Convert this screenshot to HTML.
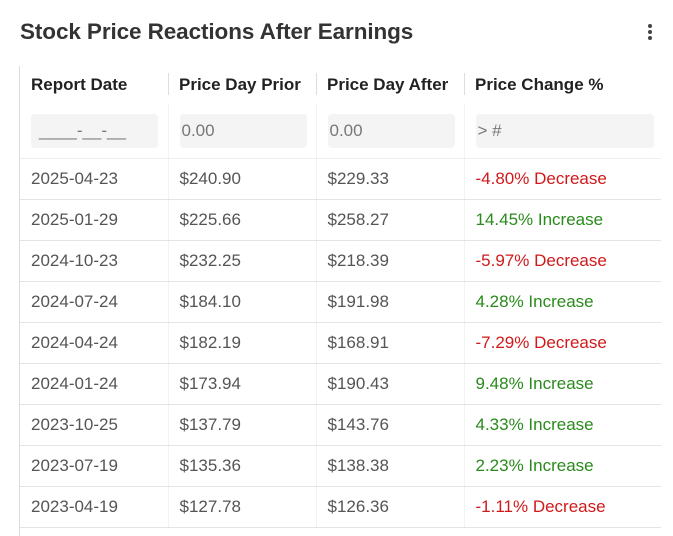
<!DOCTYPE html>
<html><head><meta charset="utf-8"><style>
body{margin:0;width:673px;height:536px;overflow:hidden;background:#fff;font-family:"Liberation Sans",sans-serif;position:relative}
.title{position:absolute;left:20px;top:19px;font-size:22.5px;font-weight:bold;color:#333;letter-spacing:-0.1px}
.kebab{position:absolute;left:646px;top:24px;width:8px;height:20px}
.kebab i{display:block;width:4px;height:4px;border-radius:2px;background:#444;margin:0 auto 2px}
.wrap{position:absolute;left:19px;top:66px;width:641px;border-left:1px solid #ddd;height:470px;overflow:hidden}
table{border-collapse:collapse;width:641px;table-layout:fixed}
th{height:37px;text-align:left;font-size:17px;font-weight:bold;color:#222;padding:0 0 0 11px;position:relative}
th+th::before{content:"";position:absolute;left:0;top:7px;height:22px;border-left:1px solid #ddd}
td{height:40px;font-size:17px;color:#555;padding:0 0 0 11px;border-bottom:1px solid #e4e4e4}
tr.f td{height:55px;border-bottom:1px solid #eee}
tr.f td+td,tr.d td+td{border-left:1px solid #f3f3f3}
.inp{width:125px;height:34px;background:#f4f4f4;border-radius:4px;color:#777;line-height:34px;padding-left:2px;font-size:17px}
.inp.w{width:176px}
.dec{color:#d0191b}.inc{color:#2a8a1c}
</style></head><body>
<div class="title">Stock Price Reactions After Earnings</div>
<div class="kebab"><i></i><i></i><i></i></div>
<div class="wrap">
<table>
<colgroup><col style="width:148px"><col style="width:148px"><col style="width:148px"><col style="width:197px"></colgroup>
<thead><tr>
<th>Report Date</th>
<th>Price Day Prior</th>
<th>Price Day After</th>
<th>Price Change %</th>
</tr></thead>
<tbody id="tb">
<tr class="f">
<td><div class="inp" style="padding-left:8px;width:119px">____-__-__</div></td>
<td><div class="inp">0.00</div></td>
<td><div class="inp">0.00</div></td>
<td><div class="inp w">&gt; #</div></td>
</tr>
</tbody></table></div>
<script>
const dates=["2025-04-23","2025-01-29","2024-10-23","2024-07-24","2024-04-24","2024-01-24","2023-10-25","2023-07-19","2023-04-19"];
const prior=["$240.90","$225.66","$232.25","$184.10","$182.19","$173.94","$137.79","$135.36","$127.78"];
const after=["$229.33","$258.27","$218.39","$191.98","$168.91","$190.43","$143.76","$138.38","$126.36"];
const change=[-4.80,14.45,-5.97,4.28,-7.29,9.48,4.33,2.23,-1.11];
const tb=document.getElementById('tb');
dates.forEach((d,i)=>{
 const tr=document.createElement('tr');tr.className='d';
 
 
 const c=change[i];
 const vals=[d,prior[i],after[i],c.toFixed(2)+'% '+(c<0?'Decrease':'Increase')];
 vals.forEach((v,j)=>{const td=document.createElement('td');td.textContent=v;
  
  
  if(j===3)td.className=c<0?'dec':'inc';tr.appendChild(td);});
 tb.appendChild(tr);
});
</script>
</body></html>
